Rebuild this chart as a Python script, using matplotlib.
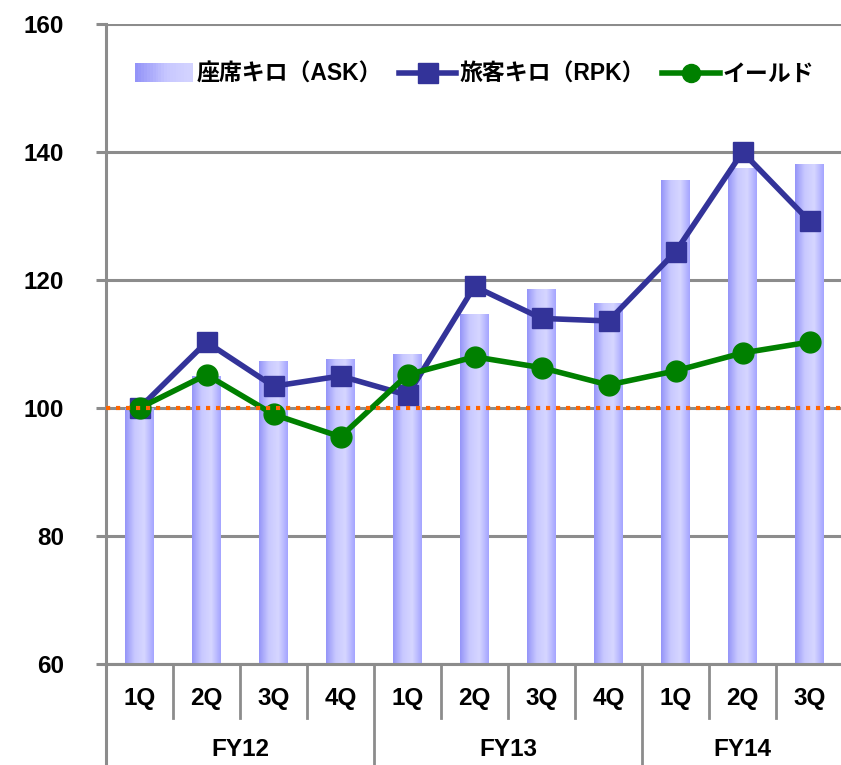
import numpy as np
import matplotlib
matplotlib.use("Agg")
import matplotlib.pyplot as plt
from matplotlib.colors import LinearSegmentedColormap
from matplotlib.lines import Line2D
from matplotlib.patches import Rectangle
from matplotlib.legend_handler import HandlerBase
from matplotlib.transforms import blended_transform_factory

plt.rcParams['font.family'] = ['Liberation Sans', 'Noto Sans CJK JP']

quarters = ['1Q', '2Q', '3Q', '4Q', '1Q', '2Q', '3Q', '4Q', '1Q', '2Q', '3Q']
years = ['FY12', 'FY13', 'FY14']
year_counts = [4, 4, 3]
ask = [100, 105, 107.4, 107.6, 108.4, 114.7, 118.6, 116.4, 135.6, 137.5, 138.1]
rpk = [100, 110.3, 103.4, 105.0, 102.0, 119.0, 114.0, 113.6, 124.4, 140.0, 129.2]
yld = [100, 105.2, 99.0, 95.5, 105.2, 108.0, 106.3, 103.6, 105.8, 108.6, 110.3]
labels = ['座席キロ（ASK）', '旅客キロ（RPK）', 'イールド']
baseline = 100

W, H = 841, 765
fig = plt.figure(figsize=(W / 100, H / 100), dpi=100)
ax = fig.add_axes([106 / W, 1 - 664 / H, (843 - 106) / W, (664 - 24) / H])

x = np.arange(len(quarters))
grid_c = '#8C8C8C'
ymin, ymax = 60, 160
ax.set_xlim(-0.5, len(quarters) - 0.5)
ax.set_ylim(ymin, ymax)

cmap = LinearSegmentedColormap.from_list('g', ['#9494F8', '#C8C8FF', '#D6D6FF', '#A4A4FF'])
grad = np.linspace(0, 1, 256).reshape(1, -1)

bars = ax.bar(x, ask, width=0.42, color='#B4B4FF', edgecolor='none', zorder=2)
for b in bars:
    x0, y0, w, h = b.get_x(), b.get_y(), b.get_width(), b.get_height()
    im = ax.imshow(grad, extent=[x0, x0 + w, max(y0, ymin), y0 + h], cmap=cmap,
                   aspect='auto', zorder=2.1, interpolation='bilinear')
    im.set_clip_path(b)

ax.plot(x, rpk, color='#333399', lw=4, marker='s', ms=14, zorder=4)
ax.plot(x, yld, color='#008000', lw=4, marker='o', ms=15, zorder=5)
ax.axhline(baseline, color='#FF6600', lw=3, ls=(0, (1, 1.4)), zorder=6)

ax.set_xlim(-0.5, len(quarters) - 0.5)
ax.set_ylim(ymin, ymax)
ax.set_yticks([60, 80, 100, 120, 140, 160])
ax.yaxis.grid(True, color=grid_c, lw=2.2, zorder=0)
ax.set_axisbelow(True)
ax.tick_params(axis='y', length=7, width=2.2, color=grid_c, pad=23, labelsize=17.5)
ax.tick_params(axis='x', length=0, labelbottom=False)
for lab in ax.get_yticklabels():
    lab.set_fontweight('bold')
for s in ['top', 'right']:
    ax.spines[s].set_visible(False)
for s in ['left', 'bottom']:
    ax.spines[s].set_color(grid_c)
    ax.spines[s].set_linewidth(2.2)

# category axis
tr = blended_transform_factory(ax.transData, fig.transFigure)
def fy(py):
    return 1 - py / H
for i, q in enumerate(quarters):
    ax.text(x[i], fy(699), q, transform=tr, ha='center', va='center',
            fontsize=17.5, fontweight='bold')
pos = 0
for i, (yr, n) in enumerate(zip(years, year_counts)):
    ax.text(pos + (n - 1) / 2, fy(749), yr, transform=tr, ha='center', va='center',
            fontsize=17.5, fontweight='bold')
    pos += n
bounds = np.cumsum([0] + year_counts)
for k in range(1, len(quarters)):
    xb = k - 0.5
    bottom = 765 if k in bounds else 718
    ax.add_line(Line2D([xb, xb], [fy(664), fy(bottom)], transform=tr,
                       color=grid_c, lw=2, clip_on=False))
ax.add_line(Line2D([-0.5, -0.5], [fy(664), fy(765)], transform=tr,
                   color=grid_c, lw=2.2, clip_on=False))


class GradHandler(HandlerBase):
    def create_artists(self, legend, orig, xd, yd, width, height, fontsize, trans):
        arts = []
        n = 20
        for j in range(n):
            c = cmap(j / (n - 1) * 0.6)
            r = Rectangle((xd + width * j / n, yd - height * 0.1), width / n + 0.3,
                          height * 1.2, facecolor=c, edgecolor='none', transform=trans)
            arts.append(r)
        return arts


h1 = Rectangle((0, 0), 1, 1)
h2 = Line2D([], [], color='#333399', lw=4, marker='s', ms=14)
h3 = Line2D([], [], color='#008000', lw=4, marker='o', ms=13)
leg = ax.legend([h1, h2, h3], labels, handler_map={Rectangle: GradHandler()},
                loc='upper left', bbox_to_anchor=(0.012, 0.972), ncol=3, frameon=False,
                handlelength=2.5, handletextpad=0.15, columnspacing=0.75,
                prop={'weight': 'bold', 'size': 16.5})

fig.savefig('out.png', dpi=100)
